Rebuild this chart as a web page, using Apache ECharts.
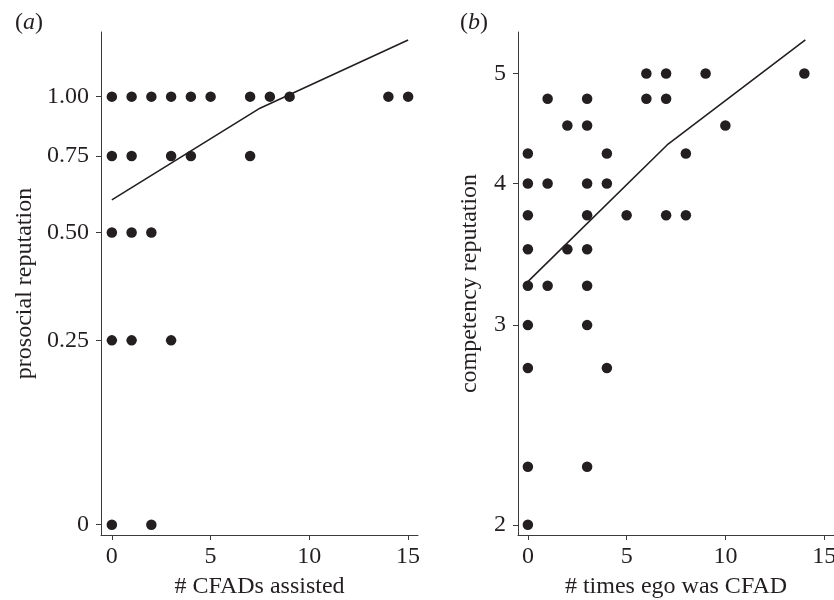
<!DOCTYPE html>
<html>
<head>
<meta charset="utf-8">
<script src="https://cdn.jsdelivr.net/npm/echarts@6/dist/echarts.min.js"></script>
<style>
  html, body { margin: 0; padding: 0; background: #fff; }
  #chart { width: 834px; height: 600px; }
</style>
</head>
<body>
<div id="chart"></div>
<script>
// panel (a): # CFADs assisted vs prosocial reputation
var cfadsAssisted = [0, 1, 2, 3, 4, 5, 7, 8, 9, 14, 15,  0, 1, 3, 4, 7,  0, 1, 2,  0, 1, 3,  0, 2];
var prosocialRep  = [1, 1, 1, 1, 1, 1, 1, 1, 1, 1, 1,  0.75, 0.75, 0.75, 0.75, 0.75,  0.5, 0.5, 0.5,  0.25, 0.25, 0.25,  0, 0];
var fitAX = [0, 7.5, 15];
var fitAY = [0.598, 0.947, 1.297];
var ticksA  = [0, 0.25, 0.5, 0.75, 1];
var labelsA = ['0', '0.25', '0.50', '0.75', '1.00'];

// panel (b): # times ego was CFAD vs competency reputation
var timesCFAD = [6, 7, 9, 14,  1, 3, 6, 7,  2, 3, 10,  0, 4, 8,  0, 1, 3, 4,  0, 3, 5, 7, 8,  0, 2, 3,  0, 1, 3,  0, 3,  0, 4,  0, 3,  0];
var competencyRep = [5, 5, 5, 5,  4.75, 4.75, 4.75, 4.75,  4.5, 4.5, 4.5,  4.25, 4.25, 4.25,  4, 4, 4, 4,
  3.75, 3.75, 3.75, 3.75, 3.75,  3.5, 3.5, 3.5,  3.25, 3.25, 3.25,  3, 3,  2.75, 2.75,  2.25, 2.25,  2];
var fitBX = [0, 7.05, 14.05];
var fitBY = [3.277, 4.325, 5.354];
var ticksB  = [2, 3, 4, 5];
var labelsB = ['2', '3', '4', '5'];
var xTicks = [0, 5, 10, 15];

// y scales: log(y + 0.25) for (a), log(y) for (b)
function fa(v) { return Math.log(v + 0.25); }
function fb(v) { return Math.log(v); }

function pairs(xs, ys, f) {
  return xs.map(function (x, i) { return [x, f(ys[i])]; });
}
function labeler(ticks, labels, f) {
  return function (val) {
    var best = 0;
    for (var i = 1; i < ticks.length; i++) {
      if (Math.abs(f(ticks[i]) - val) < Math.abs(f(ticks[best]) - val)) best = i;
    }
    return labels[best];
  };
}

var ink = '#231f20';
var font = 'Liberation Serif';
var fs = 24;

function xAxisOf(grid, name, min) {
  return {
    gridIndex: grid, type: 'value', min: min, max: 15.5,
    name: name, nameLocation: 'middle', nameGap: 40,
    nameTextStyle: { fontFamily: font, fontSize: fs, color: ink },
    splitLine: { show: false },
    axisLine: { show: true, onZero: false, lineStyle: { color: '#3a3a3a', width: 1 } },
    axisTick: { show: true, length: 5, customValues: xTicks, lineStyle: { color: '#3a3a3a' } },
    axisLabel: { customValues: xTicks, margin: 10, fontFamily: font, fontSize: fs, color: ink }
  };
}
function yAxisOf(grid, name, gap, lo, hi, ticks, labels, f) {
  var tv = ticks.map(f);
  return {
    gridIndex: grid, type: 'value', min: f(lo), max: f(hi),
    name: name, nameLocation: 'middle', nameGap: gap,
    nameTextStyle: { fontFamily: font, fontSize: fs, color: ink },
    splitLine: { show: false },
    axisLine: { show: true, onZero: false, lineStyle: { color: '#3a3a3a', width: 1 } },
    axisTick: { show: true, length: 5, customValues: tv, lineStyle: { color: '#3a3a3a' } },
    axisLabel: { customValues: tv, margin: 12, fontFamily: font, fontSize: fs, color: ink,
      formatter: labeler(ticks, labels, f) }
  };
}
function panelTitle(letter, left) {
  return {
    text: '{p|(}{i|' + letter + '}{p|)}', left: left, top: 6,
    textStyle: { rich: {
      p: { fontFamily: font, fontSize: fs, fontWeight: 'normal', color: ink },
      i: { fontFamily: font, fontSize: fs, fontWeight: 'normal', fontStyle: 'italic', color: ink }
    } }
  };
}

var chart = echarts.init(document.getElementById('chart'));
var option = {
  animation: false,
  backgroundColor: '#fff',
  title: [panelTitle('a', 10), panelTitle('b', 455)],
  grid: [
    { left: 101, width: 317, top: 32, bottom: 65, outerBoundsMode: 'none' },
    { left: 518, width: 316, top: 32, bottom: 65, outerBoundsMode: 'none' }
  ],
  xAxis: [
    xAxisOf(0, '# CFADs assisted', -0.55),
    xAxisOf(1, '# times ego was CFAD', -0.5)
  ],
  yAxis: [
    yAxisOf(0, 'prosocial reputation', 64, -0.0095, 1.344, ticksA, labelsA, fa),
    yAxisOf(1, 'competency reputation', 36, 1.959, 5.44, ticksB, labelsB, fb)
  ],
  series: [
    { type: 'scatter', xAxisIndex: 0, yAxisIndex: 0, symbolSize: 10.5,
      itemStyle: { color: ink, opacity: 1 }, data: pairs(cfadsAssisted, prosocialRep, fa) },
    { type: 'line', xAxisIndex: 0, yAxisIndex: 0, showSymbol: false,
      lineStyle: { color: ink, width: 1.6 }, data: pairs(fitAX, fitAY, fa) },
    { type: 'scatter', xAxisIndex: 1, yAxisIndex: 1, symbolSize: 10.5,
      itemStyle: { color: ink, opacity: 1 }, data: pairs(timesCFAD, competencyRep, fb) },
    { type: 'line', xAxisIndex: 1, yAxisIndex: 1, showSymbol: false,
      lineStyle: { color: ink, width: 1.6 }, data: pairs(fitBX, fitBY, fb) }
  ]
};
chart.setOption(option);
</script>
</body>
</html>
